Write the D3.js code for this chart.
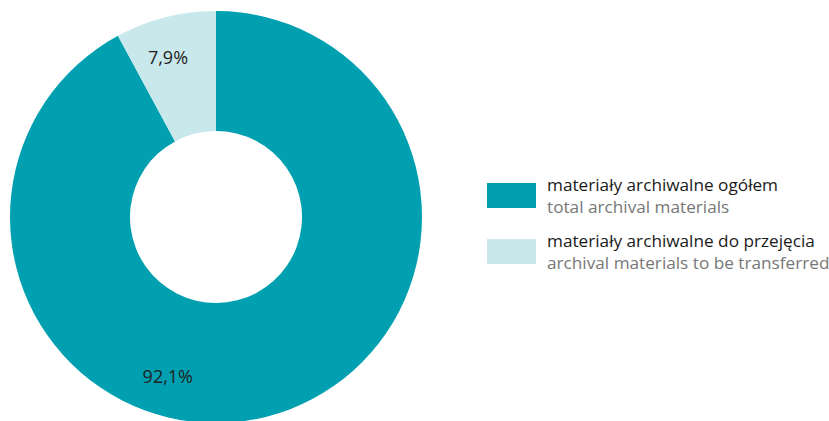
<!DOCTYPE html>
<html>
<head>
<meta charset="utf-8">
<script src="https://cdn.jsdelivr.net/npm/d3@7"></script>
<style>
  html, body { margin: 0; padding: 0; background: #ffffff; }
  svg { display: block; }
  text { font-family: "Open Sans", "Noto Sans", sans-serif; }
</style>
</head>
<body>
<svg id="chart" width="829" height="421"></svg>
<script>
const categories = ["materiały archiwalne ogółem", "materiały archiwalne do przejęcia"];
const categoriesEn = ["total archival materials", "archival materials to be transferred"];
const values = [92.1, 7.9];
const valueLabels = ["92,1%", "7,9%"];
const colors = ["#00a0b0", "#c9e8ec"];

const svg = d3.select("#chart");
const cx = 216, cy = 217, outerR = 206, innerR = 86;

const pie = d3.pie().sort(null).value(d => d)(values);
const arc = d3.arc().innerRadius(innerR).outerRadius(outerR);

const g = svg.append("g").attr("transform", `translate(${cx},${cy})`);
g.selectAll("path").data(pie).join("path")
  .attr("d", arc)
  .attr("fill", (d, i) => colors[i]);

// value labels (placed at a fixed radius, angle shifted from slice middle)
const labelRadius = 167;
const angleShift = [31 * Math.PI / 180, -2.5 * Math.PI / 180];
g.selectAll("text.val").data(pie).join("text")
  .attr("class", "val")
  .attr("transform", (d, i) => {
    const a = (d.startAngle + d.endAngle) / 2 + angleShift[i];
    return `translate(${labelRadius * Math.sin(a)},${-labelRadius * Math.cos(a)})`;
  })
  .attr("text-anchor", "middle")
  .attr("dy", "0.36em")
  .attr("font-size", 18)
  .attr("fill", "#1f1f1f")
  .text((d, i) => valueLabels[i]);

// legend
const legend = svg.append("g").attr("transform", "translate(487,183)");
const items = legend.selectAll("g").data(categories).join("g")
  .attr("transform", (d, i) => `translate(0,${i * 56})`);
items.append("rect")
  .attr("width", 49).attr("height", 25)
  .attr("fill", (d, i) => colors[i]);
items.append("text")
  .attr("x", 60).attr("y", 8)
  .attr("font-size", 17.2)
  .attr("fill", "#1a1a1a")
  .text(d => d);
items.append("text")
  .attr("x", 60).attr("y", 30)
  .attr("font-size", 17.2)
  .attr("fill", "#777777")
  .text((d, i) => categoriesEn[i]);
</script>
</body>
</html>
